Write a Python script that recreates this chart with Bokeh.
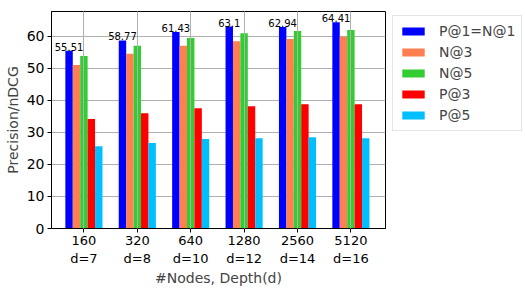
from bokeh.plotting import figure
from bokeh.models import ColumnDataSource, FixedTicker, Legend, LegendItem, LabelSet
from bokeh.transform import dodge
from bokeh.core.properties import value
from bokeh.embed import file_html
from bokeh.resources import INLINE

nodes = ["160", "320", "640", "1280", "2560", "5120"]
depths = ["d=7", "d=8", "d=10", "d=12", "d=14", "d=16"]
p1 = [55.51, 58.77, 61.43, 63.1, 62.94, 64.41]
n3 = [51.1, 54.6, 57.1, 58.5, 59.2, 60.0]
n5 = [53.9, 57.1, 59.5, 61.0, 61.7, 62.0]
p3 = [34.2, 36.0, 37.6, 38.2, 38.8, 38.8]
p5 = [25.7, 26.7, 28.0, 28.2, 28.5, 28.2]
series_names = ["P@1=N@1", "N@3", "N@5", "P@3", "P@5"]
colors = ["#0000ff", "#ff7f50", "#32cd32", "#ff0000", "#00bfff"]

FONT = "DejaVu Sans"
idx = list(range(len(nodes)))
src = ColumnDataSource(dict(x=idx, p1=p1, n3=n3, n5=n5, p3=p3, p5=p5,
                            lab=[str(v) for v in p1]))

p = figure(frame_width=334, frame_height=217, output_backend="svg", toolbar_location=None,
           x_range=(-0.607, 5.648), y_range=(0, 67.8),
           min_border_left=51, min_border_right=134, min_border_top=11, min_border_bottom=0)

w = 0.139
cols = ["p1", "n3", "n5", "p3", "p5"]
renderers = []
for k, (c, col) in enumerate(zip(cols, colors)):
    r = p.vbar(x=dodge("x", (k - 2) * w, range=p.x_range), top=c, width=w,
               source=src, fill_color=col, line_color=None)
    renderers.append(r)

labels = LabelSet(x=dodge("x", -2 * w, range=p.x_range), y="p1", text="lab", source=src,
                  text_align="center", text_baseline="alphabetic",
                  text_font=value(FONT), text_font_size="10px", text_color="#000000")
p.add_layout(labels)

legend = Legend(items=[LegendItem(label=n, renderers=[r]) for n, r in zip(series_names, renderers)],
                location=(7, 97), label_text_font=FONT, label_text_font_size="14px",
                glyph_width=28, glyph_height=10, label_standoff=12, label_height=18,
                spacing=3, padding=6, margin=0, border_line_color="#cccccc",
                border_line_width=1, background_fill_alpha=1.0)
p.add_layout(legend, "right")

p.xaxis.ticker = FixedTicker(ticks=idx)
p.xaxis.major_label_overrides = {i: f"{a}\n{b}" for i, a, b in zip(idx, nodes, depths)}
p.yaxis.ticker = FixedTicker(ticks=[0, 10, 20, 30, 40, 50, 60])
p.xaxis.axis_label = "#Nodes, Depth(d)"
p.yaxis.axis_label = "Precision/nDCG"
for ax in (p.xaxis, p.yaxis):
    ax.axis_label_text_font = FONT
    ax.axis_label_text_font_size = "14px"
    ax.axis_label_text_font_style = "normal"
    ax.major_label_text_font = FONT
    ax.major_label_text_font_size = "14px"
    ax.major_label_text_color = "#000000"
    ax.minor_tick_line_color = None
    ax.major_tick_in = 0
    ax.major_tick_out = 4
    ax.axis_line_color = "#000000"
    ax.major_tick_line_color = "#000000"
    ax.major_label_standoff = 3
    ax.axis_label_standoff = 4
p.xaxis.major_label_text_font_size = "13px"
p.xaxis.major_label_standoff = 0
p.xaxis.axis_label_standoff = 1
p.yaxis.axis_label_standoff = 3
p.xgrid.grid_line_color = "#b0b0b0"
p.ygrid.grid_line_color = "#b0b0b0"
p.xgrid.level = "annotation"
p.outline_line_color = "#000000"
p.outline_line_width = 1

open("out.html", "w").write(file_html(p, INLINE))
